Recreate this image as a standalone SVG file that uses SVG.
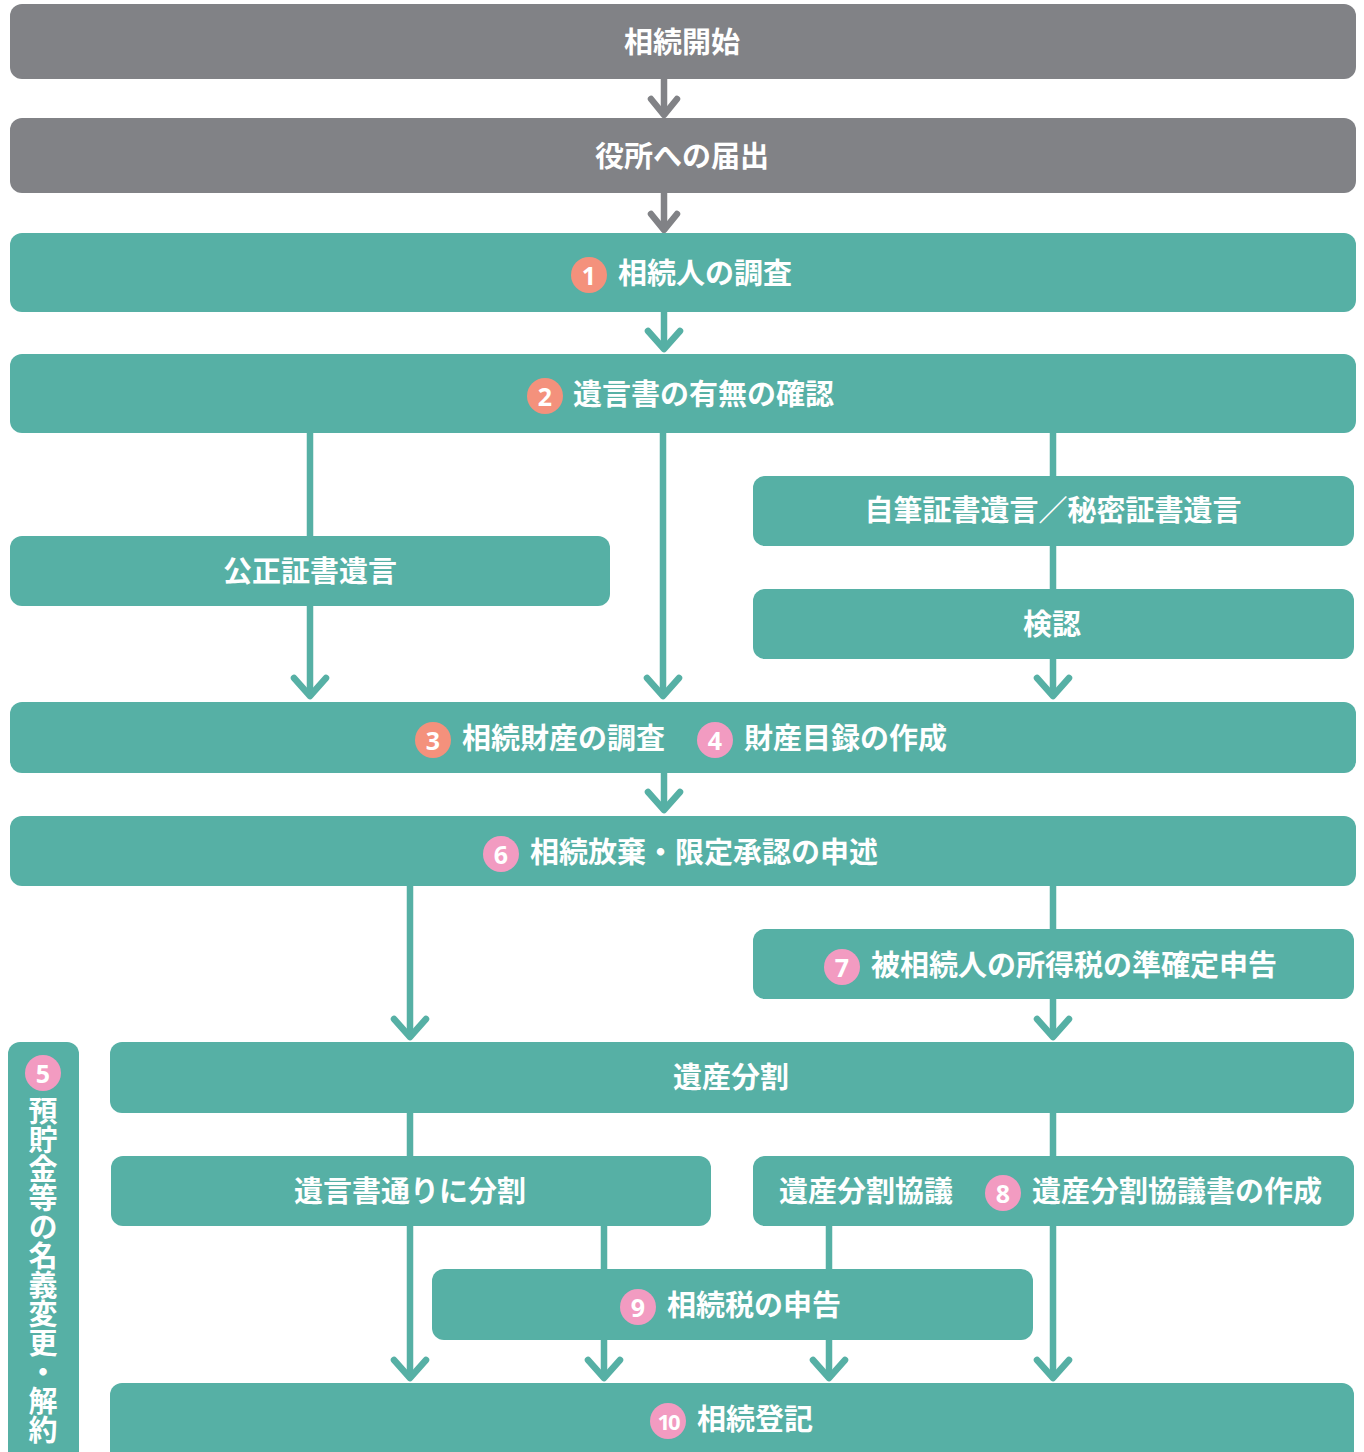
<svg xmlns="http://www.w3.org/2000/svg" width="1364" height="1452" viewBox="0 0 1364 1452">
  <style>
    .gray { fill: #818286; }
    .teal { fill: #56b0a5; }
    .lbl { font-family: "Noto Sans CJK JP", "Noto Sans", sans-serif; font-weight: 700; font-size: 29px; fill: #ffffff; dominant-baseline: central; }
    .mid { text-anchor: middle; }
    .num { font-family: "Noto Sans", "Liberation Sans", sans-serif; font-weight: 700; font-size: 25px; fill: #ffffff; text-anchor: middle; dominant-baseline: central; }
    .salmon { fill: #f4917c; }
    .pink { fill: #f29bc1; }
    .ln { fill: none; stroke-width: 6.5; stroke-linecap: butt; }
    .ln-gray { stroke: #818286; }
    .ln-teal { stroke: #56b0a5; }
    .vert { writing-mode: vertical-rl; }
  </style>
  <defs>
    <marker id="chev-gray" markerUnits="userSpaceOnUse" viewBox="-30 -30 40 60" refX="0" refY="0" markerWidth="40" markerHeight="60" orient="auto" overflow="visible">
      <path d="M -15 -13 L 1 0 L -15 13" fill="none" stroke="#818286" stroke-width="6.5" stroke-linecap="round" stroke-linejoin="round"/>
    </marker>
    <marker id="chev-teal" markerUnits="userSpaceOnUse" viewBox="-30 -30 40 60" refX="0" refY="0" markerWidth="40" markerHeight="60" orient="auto" overflow="visible">
      <path d="M -17 -16 L 1 0 L -17 16" fill="none" stroke="#56b0a5" stroke-width="6.5" stroke-linecap="round" stroke-linejoin="round"/>
    </marker>
  </defs>

  <!-- connectors (drawn first so the boxes cover the pass-through parts) -->
  <g id="connectors">
    <path class="ln ln-gray" d="M664 79 V114" marker-end="url(#chev-gray)"/>
    <path class="ln ln-gray" d="M664 193 V229" marker-end="url(#chev-gray)"/>
    <path class="ln ln-teal" d="M664 312 V348" marker-end="url(#chev-teal)"/>
    <path class="ln ln-teal" d="M310 433 V695" marker-end="url(#chev-teal)"/>
    <path class="ln ln-teal" d="M663 433 V695" marker-end="url(#chev-teal)"/>
    <path class="ln ln-teal" d="M1053 433 V695" marker-end="url(#chev-teal)"/>
    <path class="ln ln-teal" d="M664 773 V809" marker-end="url(#chev-teal)"/>
    <path class="ln ln-teal" d="M410 886 V1036" marker-end="url(#chev-teal)"/>
    <path class="ln ln-teal" d="M1053 886 V1036" marker-end="url(#chev-teal)"/>
    <path class="ln ln-teal" d="M410 1113 V1377" marker-end="url(#chev-teal)"/>
    <path class="ln ln-teal" d="M604 1226 V1377" marker-end="url(#chev-teal)"/>
    <path class="ln ln-teal" d="M829 1226 V1377" marker-end="url(#chev-teal)"/>
    <path class="ln ln-teal" d="M1053 1113 V1377" marker-end="url(#chev-teal)"/>
  </g>

  <g id="n-start">
    <rect class="gray" x="10" y="4" width="1346" height="75" rx="12"/>
    <text class="lbl mid" x="682" y="40">相続開始</text>
  </g>
  <g id="n-notify">
    <rect class="gray" x="10" y="118" width="1346" height="75" rx="12"/>
    <text class="lbl mid" x="682" y="154">役所への届出</text>
  </g>
  <g id="n-heirs">
    <rect class="teal" x="10" y="233" width="1346" height="79" rx="12"/>
    <circle class="salmon" cx="589" cy="275" r="18"/>
    <text class="num" x="589" y="275">1</text>
    <text class="lbl" x="618" y="271">相続人の調査</text>
  </g>
  <g id="n-will">
    <rect class="teal" x="10" y="354" width="1346" height="79" rx="12"/>
    <circle class="salmon" cx="545" cy="396" r="18"/>
    <text class="num" x="545" y="396">2</text>
    <text class="lbl" x="573" y="392">遺言書の有無の確認</text>
  </g>
  <g id="n-notarial">
    <rect class="teal" x="10" y="536" width="600" height="70" rx="12"/>
    <text class="lbl mid" x="310" y="569">公正証書遺言</text>
  </g>
  <g id="n-holograph">
    <rect class="teal" x="753" y="476" width="601" height="70" rx="12"/>
    <text class="lbl mid" x="1053" y="508">自筆証書遺言／秘密証書遺言</text>
  </g>
  <g id="n-probate">
    <rect class="teal" x="753" y="589" width="601" height="70" rx="12"/>
    <text class="lbl mid" x="1052" y="622">検認</text>
  </g>
  <g id="n-assets">
    <rect class="teal" x="10" y="702" width="1346" height="71" rx="12"/>
    <circle class="salmon" cx="433" cy="740" r="18"/>
    <text class="num" x="433" y="740">3</text>
    <text class="lbl" x="462" y="736">相続財産の調査</text>
    <circle class="pink" cx="715" cy="740" r="18"/>
    <text class="num" x="715" y="740">4</text>
    <text class="lbl" x="744" y="736">財産目録の作成</text>
  </g>
  <g id="n-renounce">
    <rect class="teal" x="10" y="816" width="1346" height="70" rx="12"/>
    <circle class="pink" cx="501" cy="854" r="18"/>
    <text class="num" x="501" y="854">6</text>
    <text class="lbl" x="530" y="850">相続放棄・限定承認の申述</text>
  </g>
  <g id="n-incometax">
    <rect class="teal" x="753" y="929" width="601" height="70" rx="12"/>
    <circle class="pink" cx="842" cy="967" r="18"/>
    <text class="num" x="842" y="967">7</text>
    <text class="lbl" x="871" y="963">被相続人の所得税の準確定申告</text>
  </g>
  <g id="n-deposits">
    <rect class="teal" x="8" y="1042" width="71" height="430" rx="12"/>
    <circle class="pink" cx="43" cy="1073" r="18"/>
    <text class="num" x="43" y="1073">5</text>
    <text class="lbl vert" x="43" y="1096">預貯金等の名義変更・解約</text>
  </g>
  <g id="n-division">
    <rect class="teal" x="110" y="1042" width="1244" height="71" rx="12"/>
    <text class="lbl mid" x="731" y="1075">遺産分割</text>
  </g>
  <g id="n-bywill">
    <rect class="teal" x="111" y="1156" width="600" height="70" rx="12"/>
    <text class="lbl mid" x="410" y="1189">遺言書通りに分割</text>
  </g>
  <g id="n-agreement">
    <rect class="teal" x="753" y="1156" width="601" height="70" rx="12"/>
    <text class="lbl" x="779" y="1189">遺産分割協議</text>
    <circle class="pink" cx="1003" cy="1193" r="18"/>
    <text class="num" x="1003" y="1193">8</text>
    <text class="lbl" x="1032" y="1189">遺産分割協議書の作成</text>
  </g>
  <g id="n-inheritancetax">
    <rect class="teal" x="432" y="1269" width="601" height="71" rx="12"/>
    <circle class="pink" cx="638" cy="1307" r="18"/>
    <text class="num" x="638" y="1307">9</text>
    <text class="lbl" x="667" y="1303">相続税の申告</text>
  </g>
  <g id="n-registration">
    <rect class="teal" x="110" y="1383" width="1244" height="90" rx="12"/>
    <circle class="pink" cx="668" cy="1421" r="18"/>
    <text class="num" x="668" y="1421" style="font-size:22px;letter-spacing:-2px">10</text>
    <text class="lbl" x="697" y="1417">相続登記</text>
  </g>
</svg>
